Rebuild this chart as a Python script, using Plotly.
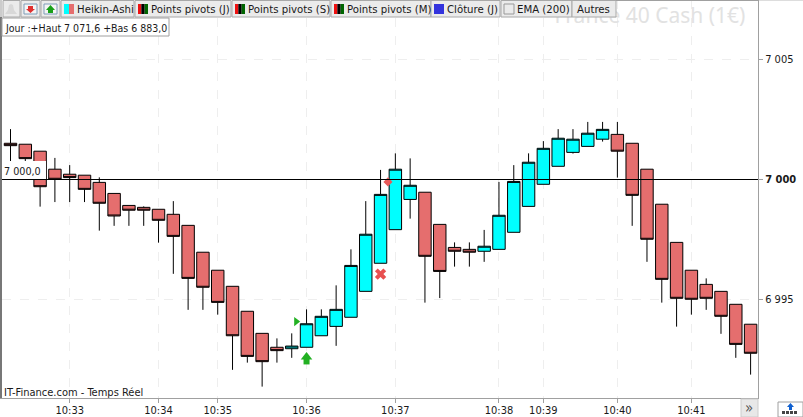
import plotly.graph_objects as go

W = 803
H = 417
FONT = "DejaVu Sans Condensed"

# heikin-ashi candles
candle_x = list(range(51))
open_vals = [7001.51, 7001.47, 7001.18, 7000.43, 7000.22, 7000.18, 6999.88, 6999.42, 6998.92, 6998.84,
             6998.76, 6998.55, 6998.09, 6996.97, 6996.22, 6995.55, 6994.51, 6993.59, 6993.01, 6992.95,
             6993.01, 6993.49, 6993.88, 6994.26, 6995.34, 6996.51, 6997.91, 6999.17, 6999.47, 6998.13,
             6997.17, 6997.09, 6997.01, 6997.09, 6997.80, 6998.88, 6999.80, 7000.55, 7001.13, 7001.38,
             7001.68, 7001.88, 7001.51, 7000.43, 6998.97, 6997.38, 6996.22, 6995.63, 6995.34, 6994.80,
             6993.97]
high_vals = [7002.10, 7001.47, 7001.18, 7000.90, 7000.60, 7000.18, 7000.09, 6999.42, 6998.92, 6998.88,
             6998.76, 6999.10, 6998.09, 6996.97, 6996.22, 6995.55, 6994.51, 6993.59, 6993.38, 6993.59,
             6994.59, 6994.59, 6995.59, 6997.09, 6999.10, 7000.40, 7001.09, 7000.88, 6999.47, 6998.13,
             6997.38, 6997.38, 6997.90, 6999.90, 7000.60, 7001.09, 7001.60, 7002.10, 7002.10, 7002.40,
             7002.40, 7002.40, 7001.51, 7000.43, 6998.97, 6997.38, 6996.22, 6995.88, 6995.34, 6994.80,
             6993.97]
low_vals = [7000.60, 7000.77, 6998.87, 6999.06, 6999.06, 6999.06, 6997.87, 6998.07, 6998.07, 6998.07,
            6997.37, 6996.07, 6994.57, 6994.57, 6994.37, 6992.07, 6992.37, 6991.37, 6992.37, 6992.57,
            6993.01, 6993.49, 6993.07, 6994.26, 6995.34, 6996.51, 6997.91, 6998.37, 6994.87, 6995.06,
            6996.37, 6996.37, 6996.57, 6997.09, 6997.80, 6998.88, 6999.80, 7000.55, 7001.08, 7001.38,
            7001.58, 7000.08, 6998.07, 6996.57, 6994.87, 6993.87, 6994.37, 6994.57, 6993.57, 6992.57,
            6991.87]
close_vals = [7001.41, 7000.87, 6999.70, 7000.01, 7000.08, 6999.59, 6999.01, 6998.48, 6998.72, 6998.72,
              6998.30, 6997.63, 6995.88, 6995.51, 6994.88, 6993.49, 6992.63, 6992.41, 6992.87, 6993.06,
              6993.99, 6994.30, 6994.59, 6996.42, 6997.72, 6999.38, 7000.43, 6999.76, 6996.80, 6996.17,
              6997.01, 6996.97, 6997.22, 6998.51, 6999.92, 7000.72, 7001.30, 7001.72, 7001.68, 7001.93,
              7002.09, 7001.18, 6999.34, 6997.51, 6995.84, 6995.05, 6995.01, 6995.05, 6994.30, 6993.13,
              6992.76]

# axes
time_ticks = [4, 10, 14, 20, 26, 33, 36, 41, 46]
time_labels = ["10:33", "10:34", "10:35", "10:36", "10:37", "10:38", "10:39", "10:40", "10:41"]
price_ticks = [6995, 7000, 7005]
price_labels = ["6 995", "<b>7 000</b>", "7 005"]

# signals
buy_x = [20]
buy_head_y = [6992.60]
buy_stem_y = [6992.42]
sell_x = [25]
sell_y = [6996.06]
pivot_x = [25.5]
pivot_y = [6999.90]
flag_x = [19.3]
flag_y = [6994.08]


def px(x):
    return x / W


def py(y):
    return 1 - y / H


def box(x0, y0, x1, y1, fill, line=None, width=1):
    return dict(type="rect", xref="paper", yref="paper", x0=px(x0), y0=py(y0), x1=px(x1), y1=py(y1),
                fillcolor=fill, line=dict(color=line or fill, width=width if line else 0), layer="above")


def poly(points, fill):
    path = "M " + " L ".join(f"{px(x):.5f} {py(y):.5f}" for x, y in points) + " Z"
    return dict(type="path", xref="paper", yref="paper", path=path, fillcolor=fill, line=dict(width=0), layer="above")


def label(x, y, text, size=11.3, color="#1a1a1a", anchor="left"):
    return dict(xref="paper", yref="paper", x=px(x), y=py(y), text=text, showarrow=False, xanchor=anchor,
                yanchor="middle", font=dict(family=FONT, size=size, color=color), borderpad=0, borderwidth=0)


fig = go.Figure()

# watermark sits under the toolbar
fig.add_trace(go.Scatter(x=[43.2], y=[7006.75], mode="text", text=["France 40 Cash (1€)"],
                         textfont=dict(family="Noto Sans", size=21, color="#e2e2e2"), hoverinfo="skip", cliponaxis=False))

fig.add_trace(go.Scatter(x=pivot_x, y=pivot_y, mode="markers", hoverinfo="skip",
                         marker=dict(symbol="diamond", size=7, color="#e85a5a")))

fig.add_trace(go.Candlestick(
    x=candle_x, open=open_vals, high=high_vals, low=low_vals, close=close_vals,
    increasing=dict(fillcolor="#00ffff", line=dict(color="#000000", width=1)),
    decreasing=dict(fillcolor="#e56e6e", line=dict(color="#000000", width=1)),
    whiskerwidth=0,
))

fig.add_trace(go.Scatter(x=buy_x, y=buy_head_y, mode="markers", hoverinfo="skip",
                         marker=dict(symbol="triangle-up", size=10, color="#22b022")))
fig.add_trace(go.Scatter(x=buy_x, y=buy_stem_y, mode="markers", hoverinfo="skip",
                         marker=dict(symbol="square", size=6, color="#22b022")))
fig.add_trace(go.Scatter(x=sell_x, y=sell_y, mode="markers", hoverinfo="skip",
                         marker=dict(symbol="x", size=10, color="#e85050", line=dict(width=0))))
fig.add_trace(go.Scatter(x=flag_x, y=flag_y, mode="markers", hoverinfo="skip",
                         marker=dict(symbol="triangle-right", size=8, color="#22b022")))

# toolbar buttons
buttons = [(3, 20), (21, 40), (41, 60), (61, 134), (135, 231), (232, 330), (331, 431), (431, 500), (501, 572), (572, 616)]
shapes = [box(x0, 0.5, x1, 17, "#ebebeb", "#a8a8a8") for x0, x1 in buttons]

# frame
shapes += [
    box(0, 17, 2, 398, "#777777"),
    box(0, 0, 2, 17, "#cccccc"),
    box(758, 0, 759, 398, "#a0a0a0"),
    box(616, 0, 759, 1, "#a0a0a0"),
    box(759, 0, 803, 1, "#dddddd"),
    box(0, 398, 759, 399, "#a0a0a0"),
]

# price line, info boxes
shapes += [
    dict(type="line", xref="paper", yref="y", x0=px(2), x1=px(758), y0=7000, y1=7000,
         line=dict(color="#000000", width=1), layer="above"),
    box(2, 161, 46, 179, "#ffffff"),
    box(2, 18, 169, 36, "#ffffff", "#a0a0a0"),
]

# swatches
swatches = [
    (64, ["#00ffff", "#e56e6e"]),
    (138, ["#ee1111", "#000000", "#006600"]),
    (235, ["#ee1111", "#000000", "#006600"]),
    (334, ["#ee1111", "#000000", "#006600"]),
    (434, ["#3333dd"]),
]
for x0, colors in swatches:
    step = 10 / len(colors)
    for i, c in enumerate(colors):
        shapes.append(box(x0 + i * step, 4, x0 + (i + 1) * step, 14, c))
shapes.append(box(504, 4, 514, 14, "#ebebeb", "#999999"))

# bell and the two arrow icons
shapes += [
    poly([(11, 4), (13, 5), (14, 10), (17, 14), (5, 14), (8, 10), (9, 5)], "#d8d8d8"),
    box(24, 4, 37, 14, "#f4f4f4", "#7f9db9"),
    box(44, 4, 57, 14, "#f4f4f4", "#7f9db9"),
    poly([(28, 6), (33, 6), (33, 9), (35, 9), (30.5, 13), (26, 9), (28, 9)], "#e03030"),
    poly([(48, 13), (53, 13), (53, 10), (55, 10), (50.5, 5), (46, 10), (48, 10)], "#18a018"),
]

# bottom right buttons
shapes += [
    box(741, 399, 758, 417, "#e8e8e8", "#cccccc"),
    box(778, 402, 803, 417, "#ffffff", "#a0a0a0"),
    poly([(789, 410), (792, 410), (792, 407), (794, 407), (790.5, 403), (787, 407), (789, 407)], "#1060d0"),
]
for x0 in [782, 786, 790, 794]:
    shapes.append(box(x0, 411, x0 + 3, 414, "#444444"))

annotations = [
    label(77, 9.5, "Heikin-Ashi"),
    label(151, 9.5, "Points pivots (J)"),
    label(248, 9.5, "Points pivots (S)"),
    label(347, 9.5, "Points pivots (M)"),
    label(447, 9.5, "Clôture (J)"),
    label(517, 9.5, "EMA (200)"),
    label(577, 9.5, "Autres"),
    label(5, 28, "Jour :+Haut 7 071,6 +Bas 6 883,0", size=10.5),
    label(4, 171, "7 000,0", size=10.7),
    label(4, 392, "IT-Finance.com - Temps Réel", size=11),
    label(749, 408, "»", size=15, color="#555555", anchor="center"),
]

fig.update_layout(
    width=W, height=H,
    margin=dict(l=0, r=0, t=0, b=0),
    paper_bgcolor="#ffffff", plot_bgcolor="#ffffff",
    showlegend=False,
    boxgap=0.16, boxgroupgap=0,
    shapes=shapes,
    annotations=annotations,
    font=dict(family=FONT, size=11, color="#1a1a1a"),
)
fig.update_xaxes(
    domain=[px(2), px(758)], range=[-0.574, 50.5], rangeslider_visible=False, automargin=False,
    tickmode="array", tickvals=time_ticks, ticktext=time_labels,
    ticks="outside", ticklen=4, tickcolor="#a0a0a0", ticklabelstandoff=-2,
    showgrid=True, gridcolor="#eeeeee", griddash="dash", gridwidth=1, zeroline=False, showline=False,
)
fig.update_yaxes(
    domain=[py(398), 1], range=[6990.896, 7007.48], side="right", automargin=False,
    tickmode="array", tickvals=price_ticks, ticktext=price_labels,
    ticks="outside", ticklen=4, tickcolor="#a0a0a0",
    showgrid=True, gridcolor="#eeeeee", griddash="dash", gridwidth=1, zeroline=False, showline=False,
)

fig.write_html("out.html", post_script="document.body.style.margin = '0';", config=dict(displayModeBar=False))
